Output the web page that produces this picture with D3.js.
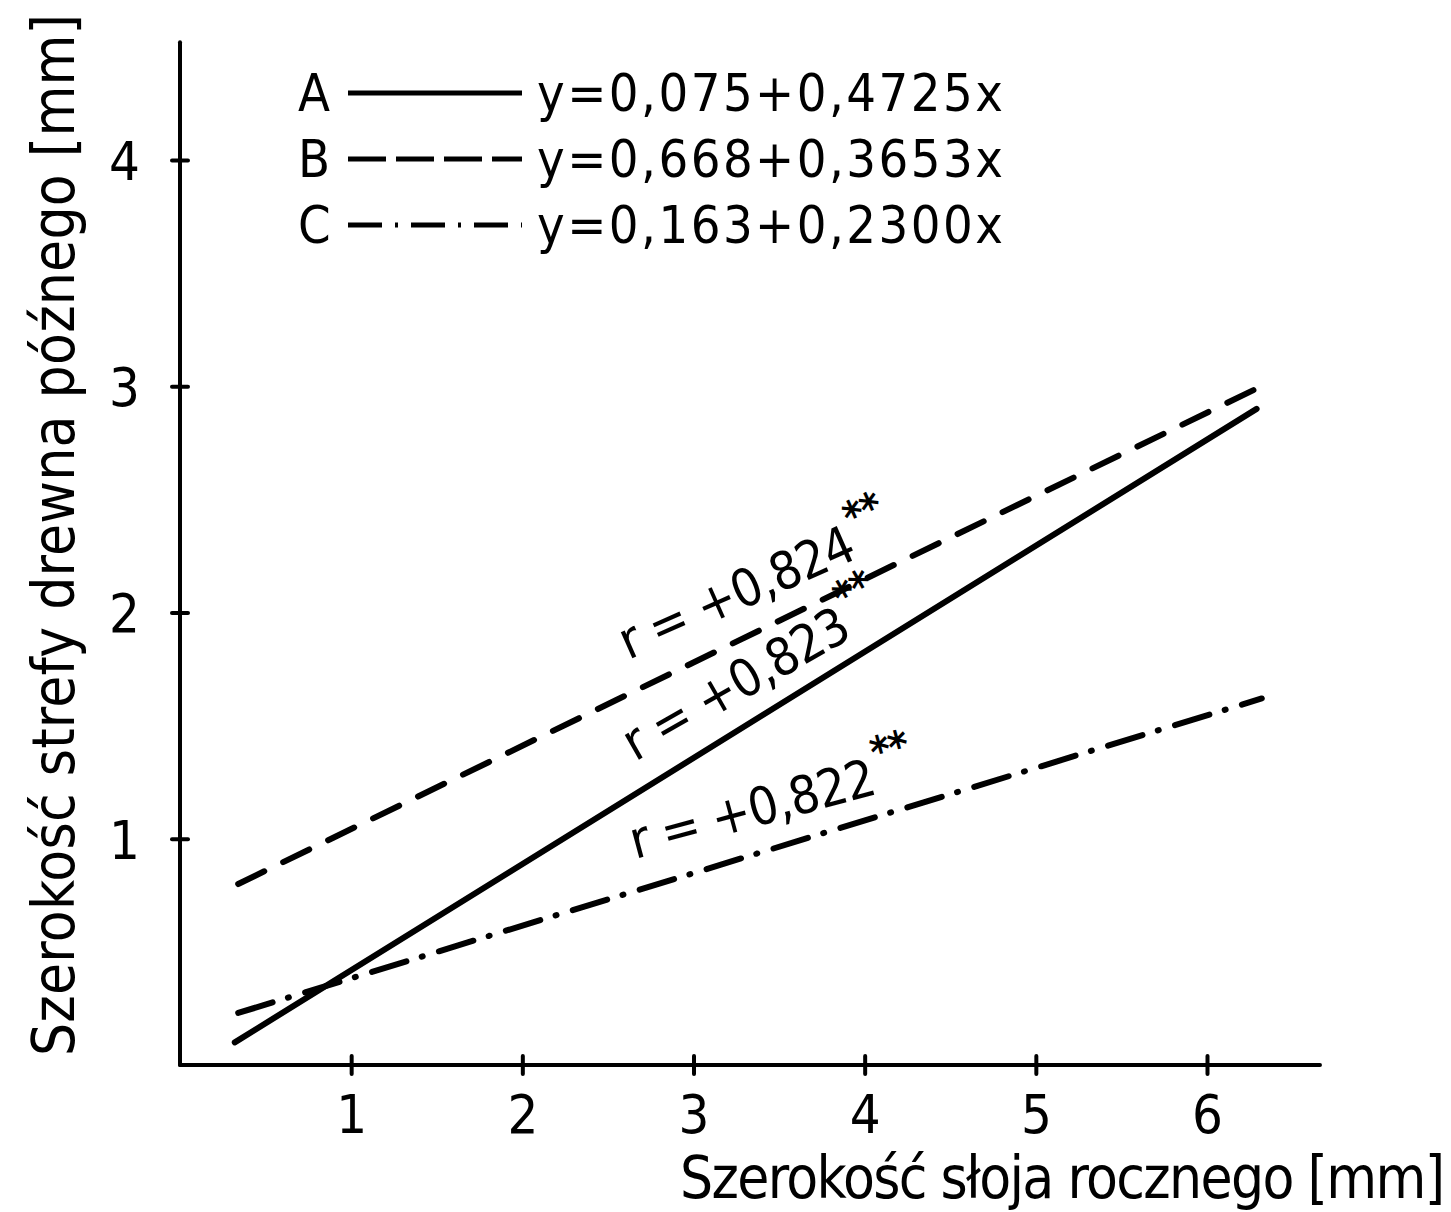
<!DOCTYPE html>
<html>
<head>
<meta charset="utf-8">
<script src="https://cdn.jsdelivr.net/npm/d3@7"></script>
<style>
  html, body { margin: 0; padding: 0; background: #fff; }
  svg { display: block; }
  text { font-family: "DejaVu Sans Condensed", "Liberation Sans Narrow", "DejaVu Sans", sans-serif; fill: #000; }
</style>
</head>
<body>
<div id="chart"></div>
<script>
// Data
const seriesNames = ['A', 'B', 'C']
const equations = ['y=0,075+0,4725x', 'y=0,668+0,3653x', 'y=0,163+0,2300x']
const startX = [0.32, 0.34, 0.34]
const startY = [0.10, 0.80, 0.23]
const endX = [6.29, 6.29, 6.32]
const endY = [2.90, 2.99, 1.62]
const rLabels = ['r = +0,823', 'r = +0,824', 'r = +0,822']
const rLabelX = [2.66, 2.62, 2.66]
const rLabelY = [1.34, 1.79, 0.91]
const xTicks = [1, 2, 3, 4, 5, 6]
const yTicks = [1, 2, 3, 4]
const xTitle = 'Szerokość słoja rocznego [mm]'
const yTitle = 'Szerokość strefy drewna późnego [mm]'

// SVG Node
const width = 1451
const height = 1212
const svg = d3.select('#chart').append('svg')
    .attr('width', width)
    .attr('height', height)

// Presentation
const dashes = ['none', '29,21', '36,16,1,17']
const legendDashes = ['none', '38,10', '34,13,3,13']

// Scale
const x = d3.scaleLinear().domain([0, 6]).range([180, 1207])
const y = d3.scaleLinear().domain([0, 4]).range([1065, 160])

// Axis
const xAxis = d3.axisBottom(x).tickValues(xTicks).tickSize(9).tickPadding(20).tickFormat(d3.format('d'))
const yAxis = d3.axisLeft(y).tickValues(yTicks).tickSize(8).tickPadding(32).tickFormat(d3.format('d'))

const gx = svg.append('g')
    .attr('transform', `translate(0, ${y(0)})`)
    .call(xAxis)
gx.select('.domain').attr('d', `M${x(0)},0H${x(6.66)}`)
gx.selectAll('.tick line').attr('y1', -9)
gx.selectAll('.tick text').attr('font-size', 54).attr('dy', '0.72em')

const gy = svg.append('g')
    .attr('transform', `translate(${x(0)}, 0)`)
    .call(yAxis)
gy.select('.domain').attr('d', `M0,${y(0)}V${y(4.52)}`)
gy.selectAll('.tick line').attr('x1', 8).attr('x2', -8)
gy.selectAll('.tick text').attr('font-size', 54).attr('dy', '0.36em')

svg.selectAll('.domain, .tick line')
    .attr('stroke', '#000')
    .attr('stroke-width', 4)
    .attr('stroke-linecap', 'round')
svg.selectAll('.tick text').attr('fill', '#000').attr('font-family', null)

// Axis titles
svg.append('text')
    .attr('x', 680)
    .attr('y', 1198)
    .attr('font-size', 58)
    .attr('textLength', 765)
    .attr('lengthAdjust', 'spacing')
    .text(xTitle)

svg.append('text')
    .attr('transform', 'translate(74, 1056) rotate(-90)')
    .attr('font-size', 58)
    .attr('textLength', 1042)
    .attr('lengthAdjust', 'spacing')
    .text(yTitle)

// Lines
const line = d3.line().x(d => x(d[0])).y(d => y(d[1]))
svg.append('g').selectAll('path.series')
    .data(seriesNames)
    .enter()
    .append('path')
    .classed('series', true)
    .attr('d', (_, i) => line([[startX[i], startY[i]], [endX[i], endY[i]]]))
    .attr('fill', 'none')
    .attr('stroke', '#000')
    .attr('stroke-width', 6)
    .attr('stroke-linecap', 'round')
    .attr('stroke-dasharray', (_, i) => dashes[i])

// r labels, rotated along their line
const labels = svg.append('g').selectAll('text.r')
    .data(seriesNames)
    .enter()
    .append('text')
    .classed('r', true)
    .attr('font-size', 52)
    .attr('letter-spacing', -1)
    .attr('transform', (_, i) => {
        const angle = Math.atan2(y(endY[i]) - y(startY[i]), x(endX[i]) - x(startX[i])) * 180 / Math.PI + 2
        return `translate(${x(rLabelX[i])}, ${y(rLabelY[i])}) rotate(${angle})`
    })
labels.append('tspan').text((_, i) => rLabels[i])
labels.append('tspan')
    .attr('dx', 4)
    .attr('dy', -26)
    .attr('font-size', 42)
    .attr('font-weight', 'bold')
    .text('**')

// Legend
const legend = svg.append('g').selectAll('g.legend')
    .data(seriesNames)
    .enter()
    .append('g')
    .classed('legend', true)
    .attr('transform', (_, i) => `translate(0, ${93 + i * 66})`)
legend.append('text')
    .attr('x', 298)
    .attr('y', 18)
    .attr('font-size', 52)
    .text(d => d)
legend.append('line')
    .attr('x1', 348)
    .attr('x2', 522)
    .attr('stroke', '#000')
    .attr('stroke-width', 5)
    .attr('stroke-dasharray', (_, i) => legendDashes[i])
legend.append('text')
    .attr('x', 537)
    .attr('y', 18)
    .attr('font-size', 52)
    .attr('textLength', 466)
    .attr('lengthAdjust', 'spacing')
    .text((_, i) => equations[i])
</script>
</body>
</html>
